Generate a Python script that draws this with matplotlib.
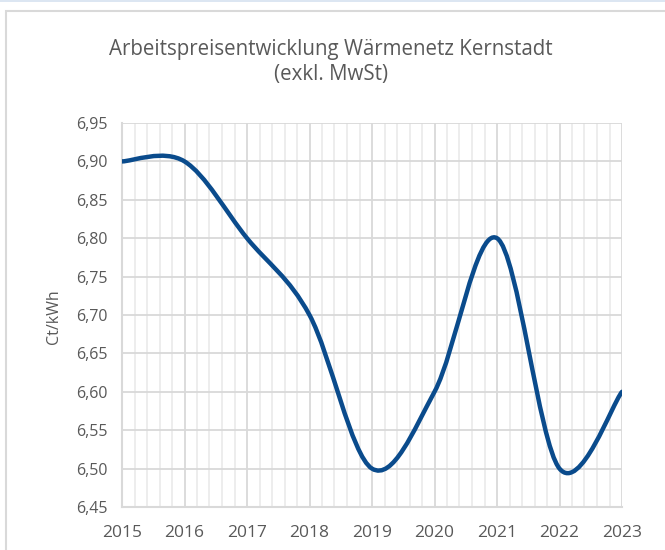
import matplotlib
matplotlib.use("Agg")
import matplotlib.pyplot as plt
from matplotlib.path import Path
from matplotlib.patches import PathPatch, Rectangle
from matplotlib.ticker import FuncFormatter, MultipleLocator

years = [2015, 2016, 2017, 2018, 2019, 2020, 2021, 2022, 2023]
prices = [6.90, 6.90, 6.80, 6.70, 6.50, 6.60, 6.80, 6.50, 6.60]
y_ticks = [6.45, 6.50, 6.55, 6.60, 6.65, 6.70, 6.75, 6.80, 6.85, 6.90, 6.95]
title = "Arbeitspreisentwicklung Wärmenetz Kernstadt\n(exkl. MwSt)"
y_label = "Ct/kWh"

TXT = "#595959"
GRID = "#d9d9d9"
LINE = "#0a4b8c"


def smooth_path(xs, ys):
    # Excel-style smoothed line: cubic bezier, control points from neighbours / 6
    n = len(xs)
    verts = [(xs[0], ys[0])]
    codes = [Path.MOVETO]
    for i in range(n - 1):
        p0 = (xs[max(i - 1, 0)], ys[max(i - 1, 0)])
        p1 = (xs[i], ys[i])
        p2 = (xs[i + 1], ys[i + 1])
        p3 = (xs[min(i + 2, n - 1)], ys[min(i + 2, n - 1)])
        c1 = (p1[0] + (p2[0] - p0[0]) / 6, p1[1] + (p2[1] - p0[1]) / 6)
        c2 = (p2[0] - (p3[0] - p1[0]) / 6, p2[1] - (p3[1] - p1[1]) / 6)
        verts += [c1, c2, p2]
        codes += [Path.CURVE4] * 3
    return Path(verts, codes)


plt.rcParams['font.family'] = ['Open Sans', 'DejaVu Sans']

fig = plt.figure(figsize=(6.65, 5.5), dpi=100)
fig.patches.append(Rectangle((0, 1 - 2 / 550), 1, 2 / 550, transform=fig.transFigure,
                             facecolor="#dce6f2", edgecolor="none"))
fig.patches.append(Rectangle((6 / 665, -0.01), 1.0, 1 - 11 / 550 + 0.01, transform=fig.transFigure,
                             facecolor="none", edgecolor=GRID, linewidth=1.5))

ax = fig.add_axes([122 / 665, 1 - 507 / 550, 500 / 665, 384 / 550])
ax.set_xlim(years[0], years[-1])
ax.set_ylim(y_ticks[0], y_ticks[-1])

ax.add_patch(PathPatch(smooth_path(years, prices), facecolor="none", edgecolor=LINE,
                       linewidth=3.2, capstyle="round", joinstyle="round", zorder=3))

ax.set_yticks(y_ticks)
ax.set_xticks(years)
ax.xaxis.set_minor_locator(MultipleLocator(0.2))
ax.yaxis.set_major_formatter(FuncFormatter(lambda v, p: f"{v:.2f}".replace(".", ",")))
ax.xaxis.set_major_formatter(FuncFormatter(lambda v, p: f"{int(round(v))}"))

ax.grid(which="major", color=GRID, linewidth=1.3, zorder=0)
ax.grid(which="minor", axis="x", color="#ececec", linewidth=1.3, zorder=0)
ax.set_axisbelow(True)
for s in ["top", "right"]:
    ax.spines[s].set_visible(False)
for s in ["left", "bottom"]:
    ax.spines[s].set_color(GRID)
    ax.spines[s].set_linewidth(1.5)
ax.tick_params(which="both", length=0, colors=TXT)
ax.tick_params(axis="x", labelsize=12.5, pad=13)
ax.tick_params(axis="y", labelsize=11.5, pad=10)

ax.set_ylabel(y_label, color=TXT, fontsize=11.5)
ax.yaxis.set_label_coords(-0.12, 0.495)
fig.text(0.497, 1 - 62 / 550, title, ha="center", va="center", color=TXT,
         fontsize=14.8, linespacing=1.2)

fig.savefig("out.png", dpi=100, facecolor="white")
